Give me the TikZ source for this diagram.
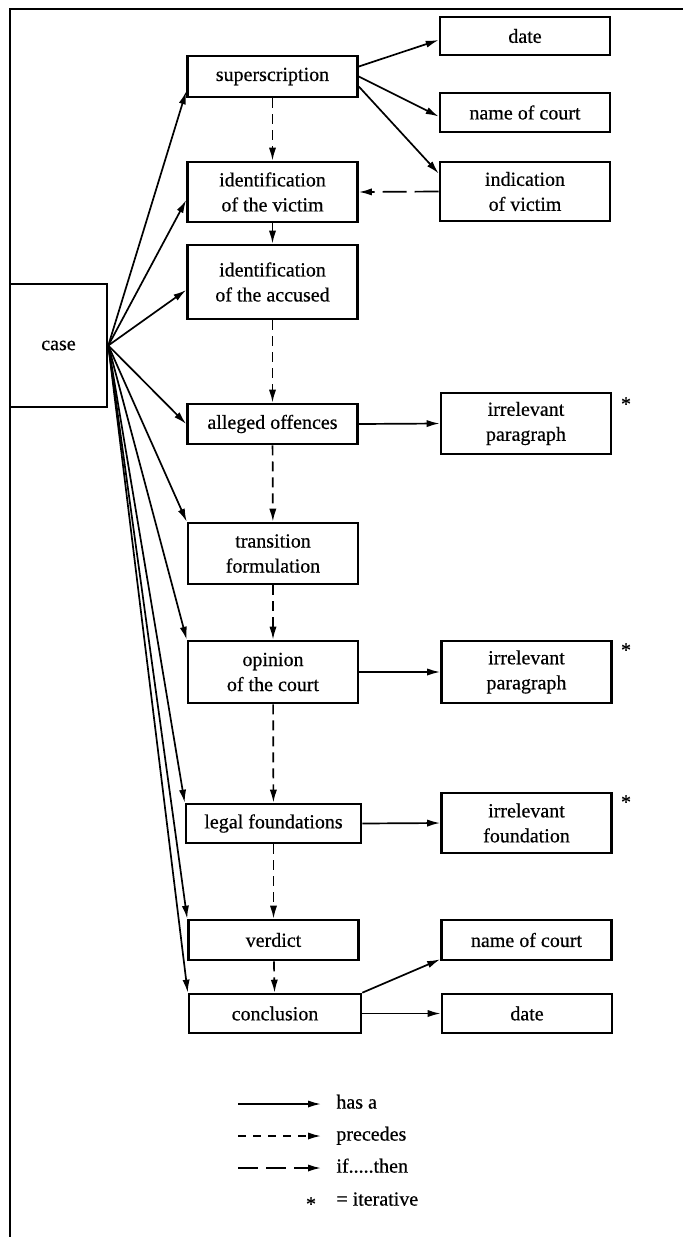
\documentclass[tikz,border=0pt]{standalone}
\usepackage{fontspec}
\setmainfont{Liberation Serif}[FakeBold=0.5]
\usetikzlibrary{positioning, arrows.meta}

\begin{document}
\begin{tikzpicture}[
    x=0.5pt, y=-0.5pt,
    box/.style={rectangle, draw, line width=1.3pt, minimum width=85pt, minimum height=20pt, align=center, inner sep=2pt, font=\fontsize{10}{12.5}\selectfont},
    hasa/.style={-{Latex[length=6.5pt, width=3.6pt]}, line width=0.85pt},
    precedes/.style={hasa, dash pattern=on 5pt off 3pt},
    ifthen/.style={hasa, dash pattern=on 12pt off 4pt},
    lbl/.style={font=\fontsize{10}{12.5}\selectfont, inner sep=0pt}
    ]
\useasboundingbox (0,0) rectangle (683,1237);
\draw[line width=1.3pt] (683,9) -- (10,9) -- (10,1237);

\node[box, minimum width=48.5pt, minimum height=61.5pt] (case) at (58.5,345.5) {case};

% middle column
\node[box, minimum height=20.5pt] (sup) at (272.5,76.5) {superscription};
\node[box, minimum height=30pt] (victim) at (272.5,192) {identification\\of the victim};
\node[box, minimum height=37pt] (accused) at (272.5,282) {identification\\of the accused};
\node[box] (alleged) at (272.5,424) {alleged offences};
\node[box, minimum height=30.5pt] (trans) at (273,553.5) {transition\\formulation};
\node[box, minimum height=31pt] (opinion) at (273,672) {opinion\\of the court};
\node[box, minimum width=87.5pt, minimum height=19.5pt] (legal) at (273.5,823.5) {legal foundations};
\node[box] (verdict) at (273.5,940) {verdict};
\node[box, minimum width=86pt, minimum height=19.5pt] (concl) at (275,1013.5) {conclusion};

% right column
\node[box, minimum height=19pt] (date) at (525,36) {date};
\node[box, minimum height=19.5pt] (court) at (525,112.5) {name of court};
\node[box, minimum height=29.5pt] (indic) at (525,191.5) {indication\\of victim};
\node[box, minimum height=30.5pt] (irrA) at (526,423.5) {irrelevant\\paragraph};
\node[box, minimum height=31pt] (irrB) at (526.5,672) {irrelevant\\paragraph};
\node[box, minimum height=30pt] (irrC) at (526.5,823) {irrelevant\\foundation};
\node[box] (courtB) at (526.5,940) {name of court};
\node[box, minimum height=19.5pt] (dateB) at (527,1013.5) {date};

\node[lbl] (starA) at (626,404) {*};
\node[lbl] (starB) at (626,650) {*};
\node[lbl] (starC) at (626,802) {*};

% has a
\draw[hasa] (case.east) -- ([yshift=3.5pt]sup.south west);
\draw[hasa] (case.east) -- ([yshift=-4pt]victim.west);
\draw[hasa] (case.east) -- ([yshift=-4pt]accused.west);
\draw[hasa] (case.east) -- (alleged.west);
\draw[hasa] (case.east) -- (trans.north west);
\draw[hasa] (case.east) -- (opinion.north west);
\draw[hasa] (case.east) -- (legal.north west);
\draw[hasa] (case.east) -- (verdict.north west);
\draw[hasa] (case.east) -- (concl.north west);

\draw[hasa] ([yshift=5pt]sup.east) -- ([yshift=-2pt]date.west);
\draw[hasa] (sup.east) -- ([yshift=-2pt]court.west);
\draw[hasa] ([yshift=-5pt]sup.east) -- ([yshift=9pt]indic.west);
\draw[hasa] (alleged.east) -- (irrA.west);
\draw[hasa] (opinion.east) -- (irrB.west);
\draw[hasa] (legal.east) -- (irrC.west);
\draw[hasa] (concl.north east) -- ([yshift=1pt]courtB.south west);
\draw[hasa] (concl.east) -- (dateB.west);

% precedes
\draw[precedes] (sup) -- (victim);
\draw[precedes] (victim) -- (accused);
\draw[precedes] (accused) -- (alleged);
\draw[precedes] (alleged) -- (trans);
\draw[precedes] (trans) -- (opinion);
\draw[precedes] (opinion) -- (legal);
\draw[precedes] (legal) -- (verdict);
\draw[precedes] (verdict) -- (concl);

% if then
\draw[ifthen] (indic.west) -- (victim.east);

% legend
\coordinate (kA) at (238,1104);
\coordinate (kAe) at (321,1104);
\coordinate (kB) at (238,1136);
\coordinate (kBe) at (321,1136);
\coordinate (kC) at (238,1168);
\coordinate (kCe) at (321,1168);
\draw[hasa] (kA) -- (kAe);
\draw[hasa, dash pattern=on 4pt off 3.5pt] (kB) -- (kBe);
\draw[hasa, dash pattern=on 10pt off 4pt] (kC) -- (kCe);
\node[lbl, anchor=mid west] (keyA) at (336,1104) {has a};
\node[lbl, anchor=mid west] (keyB) at (336,1136) {precedes};
\node[lbl, anchor=mid west] (keyC) at (336,1168) {if.....then};
\node[lbl] (keyStar) at (311,1204) {*};
\node[lbl, anchor=mid west] (keyD) at (336,1201) {= iterative};
\end{tikzpicture}
\end{document}
